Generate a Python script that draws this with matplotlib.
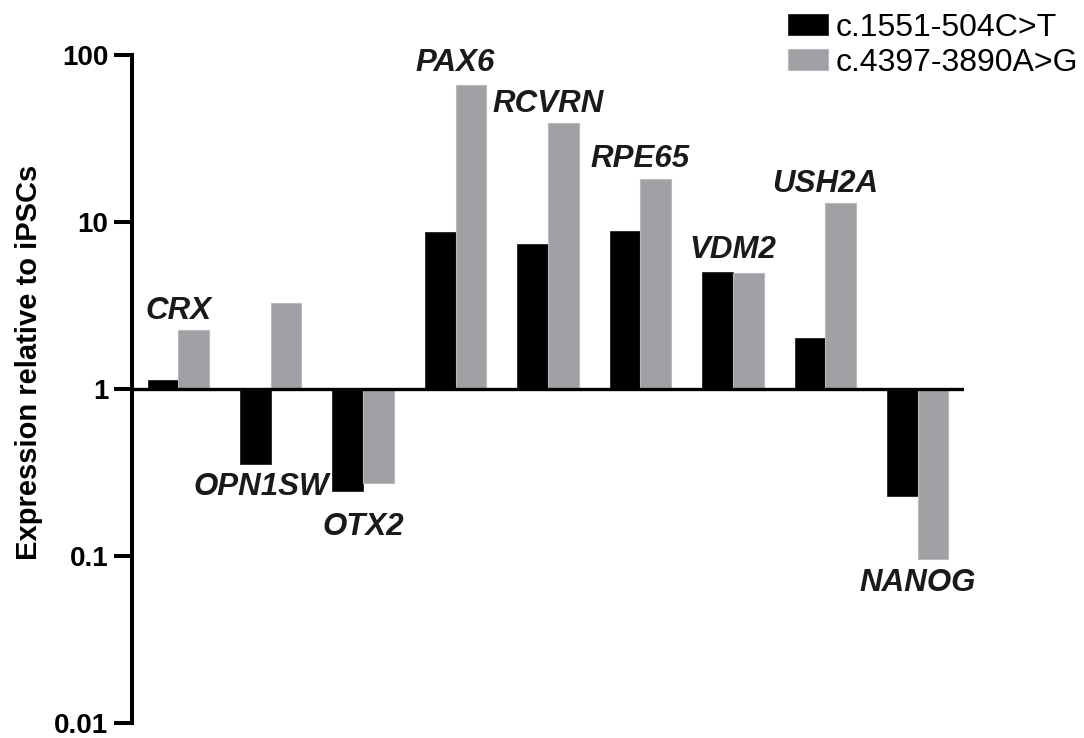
import matplotlib
matplotlib.use("Agg")
from matplotlib import pyplot as plt
import matplotlib.ticker as ticker
import numpy as np

plt.rcParams['font.family'] = ['Liberation Sans', 'DejaVu Sans']

genes = ['CRX', 'OPN1SW', 'OTX2', 'PAX6', 'RCVRN', 'RPE65', 'VDM2', 'USH2A', 'NANOG']
c1551 = [1.13, 0.354, 0.245, 8.7, 7.35, 8.85, 5.0, 2.02, 0.229]
c4397 = [2.24, 3.25, 0.274, 66.0, 39.0, 18.2, 4.95, 13.0, 0.095]
series_names = ['c.1551-504C>T', 'c.4397-3890A>G']
ytick_vals = [0.01, 0.1, 1, 10, 100]
ytick_labels = ['0.01', '0.1', '1', '10', '100']

# label nudges in points (dx, dy), tuned by eye
label_nudge = [(0, 0), (-7, 0), (0, -9), (0, 2), (0, 0), (0, 0), (0, 2), (0, 0), (0, 0)]

fig = plt.figure(figsize=(10.84, 7.38), dpi=100)
ax = fig.add_axes([132/1084, 1-722.7/738, (964-132)/1084, (722.7-55)/738])

x = np.arange(len(genes))
w = 0.332
black = '#000000'
grey = '#a1a0a5'
v1 = np.array(c1551)
v2 = np.array(c4397)
b1 = ax.bar(x - w/2, v1 - 1, bottom=1, width=w, color=black, edgecolor='#222222', linewidth=0.6, label=series_names[0])
b2 = ax.bar(x + w/2, v2 - 1, bottom=1, width=w, color=grey, edgecolor='#b9b9bc', linewidth=0.8, label=series_names[1])

ax.set_yscale('log')
ax.set_ylim(0.01, 100)
ax.set_xlim(-0.5, 8.5)
ax.axhline(1, color='black', lw=2.4, zorder=3)

for s in ['top', 'right', 'bottom']:
    ax.spines[s].set_visible(False)
ax.spines['left'].set_linewidth(2.9)
ax.set_xticks([])
ax.yaxis.set_major_locator(ticker.FixedLocator(ytick_vals))
ax.yaxis.set_major_formatter(ticker.FixedFormatter(ytick_labels))
ax.yaxis.set_minor_locator(ticker.NullLocator())
ax.tick_params(axis='y', length=13, width=2.9, labelsize=20, pad=4)
for t in ax.get_yticklabels():
    t.set_fontweight('bold')
ax.set_ylabel('Expression relative to iPSCs', fontsize=21, fontweight='bold')
ax.yaxis.set_label_coords(-0.107, 0.54)

#gene names above the taller bar, or below the lower one
for i, g in enumerate(genes):
    lo = min(v1[i], v2[i])
    hi = max(v1[i], v2[i])
    dx, dy = label_nudge[i]
    if lo < 1:
        ax.annotate(g, xy=(i, lo), xytext=(dx, -6 + dy), textcoords='offset points',
                    ha='center', va='top', fontsize=22.5, fontweight='bold', style='italic', color='#1a1a1a')
    else:
        ax.annotate(g, xy=(i, hi), xytext=(dx, 8 + dy), textcoords='offset points',
                    ha='center', va='baseline', fontsize=22.5, fontweight='bold', style='italic', color='#1a1a1a')

fig.legend(handles=[b1, b2], loc='upper left', bbox_to_anchor=(788/1084, 1 - 13/738),
           frameon=False, fontsize=23, borderpad=0, handlelength=1.25, handleheight=0.62,
           handletextpad=0.25, labelspacing=0.15, borderaxespad=0)

fig.savefig('out.png', dpi=100)
